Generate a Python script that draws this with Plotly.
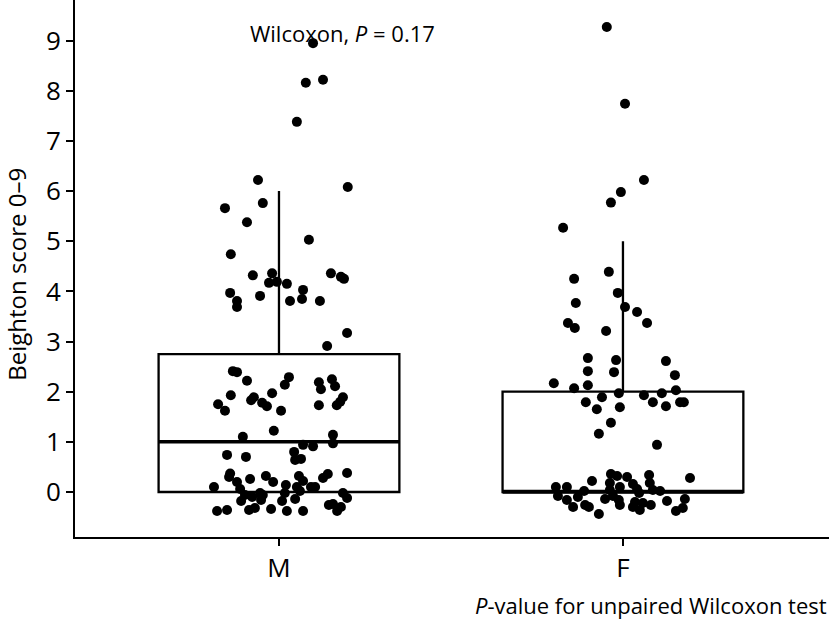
import plotly.graph_objects as go

categories = ["M", "F"]
cat_pos = [1, 2]

# Box statistics per group
q1 = [0, 0]
median = [1, 0]
q3 = [2.75, 2.0]
lowerfence = [0, 0]
upperfence = [6, 5]
box_width = 0.7

m_y = [8.95, 8.16, 8.22, 7.38, 6.22, 6.08, 5.66, 5.76, 5.38, 5.03, 4.74, 4.32, 4.36, 4.17, 4.19, 4.15,
       4.36, 4.29, 4.25, 4.03, 3.97, 3.81, 3.69, 3.91, 3.81, 3.85, 3.81, 3.17, 2.91, 2.41, 2.39, 2.22,
       2.29, 2.14, 2.19, 2.05, 2.25, 2.11, 1.93, 1.89, 1.83, 1.78, 1.71, 1.97, 1.75, 1.62, 1.62, 1.73,
       1.89, 1.73, 1.80, 1.22, 1.10, 1.14, 0.97, 0.94, 0.91, 0.74, 0.70, 0.80, 0.64, 0.66, 0.37, 0.30,
       0.26, 0.32, 0.20, 0.32, 0.22, 0.14, 0.10, 0.10, 0.28, 0.36, 0.38, 0.10, 0.20, 0.06, -0.06, -0.18,
       -0.10, -0.02, -0.06, -0.16, -0.18, -0.02, -0.14, 0.02, 0.10, -0.02, -0.12, -0.38, -0.36, -0.36,
       -0.32, -0.34, -0.38, -0.38, -0.26, -0.24, -0.38, -0.30]
m_dx = [0.099, 0.078, 0.128, 0.052, -0.061, 0.200, -0.157, -0.047, -0.093, 0.087, -0.140, -0.076, -0.020,
        -0.029, -0.006, 0.023, 0.151, 0.180, 0.189, 0.070, -0.142, -0.122, -0.122, -0.055, 0.032, 0.067,
        0.119, 0.198, 0.140, -0.134, -0.122, -0.093, 0.029, 0.017, 0.116, 0.122, 0.154, 0.163, -0.140,
        -0.073, -0.081, -0.049, -0.035, -0.020, -0.177, -0.157, 0.006, 0.116, 0.186, 0.168, 0.178, -0.015,
        -0.105, 0.157, 0.157, 0.070, 0.099, -0.151, -0.096, 0.044, 0.047, 0.064, -0.142, -0.145, -0.084,
        -0.038, -0.017, 0.058, 0.070, 0.020, 0.093, 0.105, 0.128, 0.142, 0.198, -0.189, -0.122, -0.113,
        -0.099, -0.110, -0.078, -0.055, -0.047, -0.052, 0.009, 0.017, 0.047, 0.061, 0.052, 0.186, 0.198,
        -0.180, -0.151, -0.087, -0.070, -0.023, 0.023, 0.070, 0.145, 0.157, 0.169, 0.180]

f_y = [9.27, 7.74, 6.22, 5.98, 5.77, 5.27, 4.39, 4.25, 3.97, 3.77, 3.69, 3.59, 3.37, 3.37, 3.27, 3.21,
       2.67, 2.63, 2.61, 2.41, 2.39, 2.33, 2.17, 2.07, 2.13, 1.97, 1.93, 1.79, 1.97, 2.03, 1.79, 1.79,
       1.71, 1.89, 1.79, 1.65, 1.69, 1.38, 1.16, 0.94, 0.28, 0.22, 0.36, 0.32, 0.30, 0.34, 0.18, 0.16,
       0.18, 0.06, 0.04, 0.10, 0.10, 0.02, 0.04, 0.10, 0.02, -0.08, -0.16, -0.30, -0.26, -0.30, -0.44,
       -0.14, -0.16, -0.26, -0.30, -0.36, -0.20, -0.22, -0.26, -0.18, -0.38, -0.32, -0.14, -0.02, -0.08,
       -0.10]
f_dx = [-0.047, 0.006, 0.061, -0.006, -0.035, -0.174, -0.041, -0.142, -0.015, -0.137, 0.006, 0.041, 0.070,
        -0.160, -0.140, -0.049, -0.102, -0.020, 0.125, -0.102, -0.026, 0.151, -0.201, -0.142, -0.102, -0.012,
        0.061, 0.087, 0.113, 0.154, 0.166, 0.177, 0.125, -0.061, -0.108, -0.076, -0.009, -0.035, -0.070,
        0.099, 0.195, -0.090, -0.035, -0.017, 0.012, 0.076, -0.038, 0.029, 0.078, 0.041, 0.087, -0.195,
        -0.163, -0.113, -0.038, -0.009, 0.108, -0.189, -0.163, -0.145, -0.110, -0.099, -0.070, -0.052,
        -0.012, -0.009, 0.029, 0.049, 0.035, 0.058, 0.081, 0.128, 0.154, 0.174, 0.180, 0.047, -0.029,
        -0.131]

y_ticks = list(range(0, 10))
annot_text = "Wilcoxon, <i>P</i> = 0.17"
caption_text = "<i>P</i>-value for unpaired Wilcoxon test"
y_title = "Beighton score 0–9"

FONT = "Open Sans"
fig = go.Figure()

for i in range(2):
    fig.add_trace(go.Box(
        x=[cat_pos[i]], q1=[q1[i]], median=[median[i]], q3=[q3[i]],
        lowerfence=[lowerfence[i]], upperfence=[upperfence[i]],
        width=box_width, whiskerwidth=0, boxpoints=False,
        line=dict(color="black", width=2.3), fillcolor="rgba(0,0,0,0)",
        showlegend=False, hoverinfo="skip",
    ))

# thicker median lines (ggplot style)
shapes = []
for i in range(2):
    shapes.append(dict(type="line", xref="x", yref="y",
                       x0=cat_pos[i] - box_width / 2, x1=cat_pos[i] + box_width / 2,
                       y0=median[i], y1=median[i], line=dict(color="black", width=3.5), layer="below"))

groups = [(m_y, m_dx, 0), (f_y, f_dx, 1)]
for ys, dxs, i in groups:
    fig.add_trace(go.Scatter(
        x=[cat_pos[i] + d for d in dxs], y=ys, mode="markers",
        marker=dict(color="black", size=10, line=dict(width=0)),
        showlegend=False,
    ))

fig.update_layout(
    width=829, height=619,
    margin=dict(l=75, r=0, t=0, b=82),
    paper_bgcolor="white", plot_bgcolor="white",
    font=dict(family=FONT, size=24, color="black"),
    shapes=shapes,
    xaxis=dict(range=[0.407, 2.599], tickvals=cat_pos, ticktext=categories,
               showgrid=False, zeroline=False, showline=True, linecolor="black", linewidth=2,
               ticks="outside", ticklen=7, tickwidth=2, tickcolor="black",
               tickfont=dict(size=26, family=FONT)),
    yaxis=dict(range=[-0.897, 9.81], tickvals=y_ticks,
               showgrid=False, zeroline=False, showline=True, linecolor="black", linewidth=2,
               ticks="outside", ticklen=7, tickwidth=2, tickcolor="black",
               tickfont=dict(size=26, family=FONT)),
    annotations=[
        dict(x=1.186, y=9.15, xref="x", yref="y", text=annot_text, showarrow=False,
             font=dict(size=22, family=FONT)),
        dict(x=1.0, y=-0.127, xref="paper", yref="paper", text=caption_text, showarrow=False,
             xanchor="right", yanchor="middle", font=dict(size=22, family=FONT)),
        dict(x=-0.077, y=0.49, xref="paper", yref="paper", text=y_title, showarrow=False,
             textangle=-90, xanchor="center", yanchor="middle", font=dict(size=24, family=FONT)),
    ],
)

fig.write_html("out.html")
